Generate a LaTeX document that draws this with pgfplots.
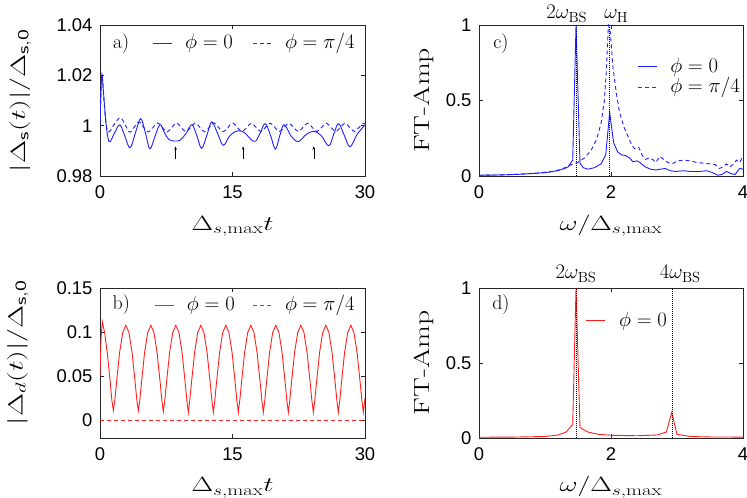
\documentclass[border=0pt]{standalone}
\usepackage{fontspec}
\usepackage{graphicx}
\usepackage{pgfplots}
\pgfplotsset{compat=1.18}
\usetikzlibrary{arrows.meta}
\newfontfamily\tickfont{Liberation Sans}
\definecolor{mblue}{rgb}{0.12,0.12,1}
\definecolor{mred}{rgb}{1,0.12,0.12}
\definecolor{kbA}{rgb}{0.13,0.13,1}
\definecolor{kbB}{rgb}{0.14,0.14,1}
\definecolor{kbC}{rgb}{0.11,0.11,1}
\definecolor{kbD}{rgb}{0.15,0.15,1}
\definecolor{krA}{rgb}{1,0.13,0.13}
\definecolor{krB}{rgb}{1,0.14,0.14}
\definecolor{krC}{rgb}{1,0.11,0.11}
\definecolor{axgray}{rgb}{0.15,0.15,0.15}

\newcommand{\keyrule}[1]{\rule[\dimexpr0.25em-0.45bp\relax]{#1}{0.9bp}}
\newcommand{\solkey}[1]{\textcolor{#1}{\keyrule{19bp}}}
\newcommand{\dshkey}[1]{\textcolor{#1}{\keyrule{4bp}\hspace{3bp}\keyrule{4bp}\hspace{3bp}\keyrule{4bp}}}

\tikzset{
  sol/.style={line width=0.9bp},
  dsh/.style={line width=0.9bp, dash pattern=on 4bp off 3bp},
  vline/.style={black, line width=0.7bp, dash pattern=on 1bp off 1bp},
  arr/.style={black, line width=0.5bp, -{Stealth[length=3.5bp,width=2.5bp]}},
  legtxt/.style={font=\fontsize{21}{24}\selectfont, anchor=west, inner sep=0pt},
}
\pgfplotsset{
  myax/.style={
    scale only axis, anchor=south west,
    axis line style={axgray, line width=0.8bp},
    tick style={axgray, line width=0.6bp},
    tick align=inside, major tick length=4bp,
    xtick pos=both, ytick pos=both,
    tick label style={font=\fontsize{18.5}{21}\selectfont\tickfont},
    /pgf/number format/assume math mode=true,
    scaled ticks=false,
    xticklabel style={yshift=-6bp},
    yticklabel style={xshift=-4bp},
    xlabel style={font=\fontsize{22}{26}\selectfont, anchor=base},
    ylabel style={font=\fontsize{22}{26}\selectfont, anchor=center},
    clip mode=individual,
  },
  topax/.style={myax, width=265bp, height=151bp},
  botax/.style={myax, width=265bp, height=150bp},
}

\begin{document}
\begin{tikzpicture}
\useasboundingbox (0,0) rectangle (747bp,498bp);

% ---------------- panel a ----------------
\begin{axis}[topax, at={(100bp,322bp)},
  xmin=0, xmax=30, ymin=0.98, ymax=1.04,
  xtick={0,15,30}, xticklabels={0,15,30},
  ytick={0.98,1,1.02,1.04}, yticklabels={0.98,1,1.02,1.04},
  xlabel={\scalebox{1.35}[1]{$\Delta_{s,\mathrm{max}}t$}},
  xlabel style={at={(axis description cs:0.5,-0.358)}},
  ylabel={\scalebox{1.45}[1]{$|\Delta_{\mathsf{s}}(t)|/\Delta_{\mathsf{s,0}}$}},
  ylabel style={at={(axis description cs:-0.30,0.5)}},
]
\addplot[color=mblue, sol, smooth, tension=0.6] coordinates {
(0,1.000) (0.1,1.013) (0.22,1.0205) (0.4,1.013) (0.65,1.002) (0.9,0.9952)
(1.15,0.9937) (1.7,0.9975) (2.25,1.0003) (2.8,0.996) (3.4,0.9912) (4.0,0.997)
(4.6,1.0028) (5.15,0.997) (5.65,0.9908) (6.25,0.996) (6.8,1.0004) (7.3,0.9972)
(7.8,0.9945) (8.45,0.9939) (9.1,0.9943) (9.75,0.997) (10.4,1.0004) (10.95,0.9962)
(11.5,0.991) (12.1,0.9962) (12.65,1.0015) (13.3,0.997) (13.95,0.9922) (14.65,0.9958)
(15.3,0.9976) (15.9,0.9979) (16.5,0.9968) (17.1,0.9945) (17.6,0.9938) (18.15,0.9972)
(18.7,1.0008) (19.3,0.9962) (19.85,0.9907) (20.35,0.996) (20.85,1.0004) (21.65,0.9958)
(22.45,0.9937) (23.35,0.9965) (24.2,0.9978) (25.05,0.996) (25.9,0.992) (26.45,0.9965)
(27.0,1.0008) (27.65,0.9962) (28.3,0.9916) (29.1,0.9965) (30,1.0003)
};
\addplot[color=mblue, dsh, smooth, tension=0.6] coordinates {
(0,1.000) (0.1,1.012) (0.24,1.0195) (0.45,1.010) (0.7,1.0005) (1.0,0.9975)
(1.6,1.0005) (2.3,1.0032) (2.85,1.0003) (3.36,0.9974) (3.9,0.9995) (4.42,1.0015)
(4.95,0.9993) (5.48,0.9975) (6.0,0.9993) (6.54,1.0011) (7.07,0.9993) (7.6,0.9975)
(8.13,0.9993) (8.66,1.0011) (9.19,0.9993) (9.72,0.9976) (10.25,0.9993) (10.78,1.0011)
(11.31,0.9993) (11.84,0.9976) (12.37,0.9993) (12.90,1.0011) (13.43,0.9993) (13.96,0.9976)
(14.49,0.9993) (15.02,1.0011) (15.55,0.9993) (16.08,0.9977) (16.61,0.9993) (17.14,1.0010)
(17.67,0.9993) (18.20,0.9977) (18.73,0.9993) (19.26,1.0010) (19.79,0.9993) (20.32,0.9977)
(20.85,0.9993) (21.38,1.0010) (21.91,0.9993) (22.44,0.9977) (22.97,0.9993) (23.50,1.0010)
(24.03,0.9993) (24.56,0.9977) (25.09,0.9993) (25.62,1.0010) (26.15,0.9993) (26.68,0.9977)
(27.21,0.9993) (27.74,1.0010) (28.27,0.9993) (28.80,0.9977) (29.33,0.9993) (29.86,1.0010)
(30,1.0009)
};
\addplot[arr] coordinates {(8.55,0.9866) (8.55,0.9918)};
\addplot[arr] coordinates {(16.2,0.9866) (16.2,0.9918)};
\addplot[arr] coordinates {(24.2,0.9866) (24.2,0.9918)};
\node[legtxt] at (axis cs:6.0,1.0328) {\solkey{kbA}\hspace{13bp}$\phi=0$};
\node[legtxt] at (axis cs:17.3,1.0328) {\dshkey{kbB}\hspace{14bp}$\phi=\pi/4$};
\node[font=\fontsize{20}{23}\selectfont] at (axis description cs:0.08,0.88) {a)};
\end{axis}

% ---------------- panel c ----------------
\begin{axis}[topax, at={(479bp,322bp)}, width=264bp,
  xmin=0, xmax=4, ymin=0, ymax=1,
  xtick={0,2,4}, xticklabels={0,2,4},
  ytick={0,0.5,1}, yticklabels={0,0.5,1},
  xlabel={\scalebox{1.35}[1]{$\omega/\Delta_{s,\mathrm{max}}$}},
  xlabel style={at={(axis description cs:0.5,-0.358)}},
  ylabel={\scalebox{1.35}[1]{FT-Amp}},
  ylabel style={at={(axis description cs:-0.21,0.5)}},
]
\addplot[color=mblue, sol] coordinates {
(0,0.005) (0.2,0.006) (0.4,0.008) (0.6,0.011) (0.8,0.016) (1.0,0.022) (1.1,0.028)
(1.2,0.036) (1.3,0.05) (1.35,0.06) (1.42,0.105) (1.47,1.0) (1.53,0.085) (1.58,0.055)
(1.65,0.045) (1.75,0.055) (1.85,0.08) (1.92,0.14) (1.98,0.42) (2.04,0.22) (2.1,0.16)
(2.16,0.14) (2.22,0.135) (2.28,0.12) (2.33,0.095) (2.4,0.1) (2.45,0.085) (2.52,0.06)
(2.6,0.045) (2.68,0.04) (2.75,0.045) (2.82,0.05) (2.9,0.035) (2.98,0.03) (3.1,0.035)
(3.2,0.03) (3.34,0.03) (3.45,0.035) (3.55,0.02) (3.62,0.005) (3.68,0.01) (3.75,0.03)
(3.82,0.015) (3.88,0.01) (3.95,0.05) (4.0,0.045)
};
\addplot[color=mblue, dsh] coordinates {
(0,0.005) (0.3,0.007) (0.6,0.012) (0.9,0.02) (1.1,0.03) (1.25,0.045) (1.4,0.075)
(1.5,0.09) (1.6,0.12) (1.7,0.17) (1.78,0.24) (1.85,0.35) (1.9,0.5) (1.93,0.7)
(1.96,1.0) (1.99,0.95) (2.03,0.72) (2.08,0.55) (2.13,0.42) (2.2,0.32) (2.26,0.26)
(2.32,0.2) (2.36,0.18) (2.42,0.19) (2.47,0.14) (2.52,0.11) (2.58,0.12) (2.63,0.11)
(2.68,0.09) (2.74,0.13) (2.8,0.11) (2.86,0.09) (2.93,0.08) (3.0,0.1) (3.1,0.105)
(3.2,0.1) (3.3,0.09) (3.4,0.085) (3.5,0.08) (3.58,0.075) (3.64,0.05) (3.7,0.06)
(3.75,0.08) (3.8,0.06) (3.86,0.08) (3.9,0.105) (3.95,0.09) (4.0,0.13)
};
\addplot[vline] coordinates {(1.47,0) (1.47,1)};
\addplot[vline] coordinates {(1.98,0) (1.98,1)};
\node[legtxt] at (axis cs:2.41,0.722) {\solkey{kbC}\hspace{13bp}$\phi=0$};
\node[legtxt] at (axis cs:2.41,0.589) {\dshkey{kbD}\hspace{14bp}$\phi=\pi/4$};
\node[font=\fontsize{21}{24}\selectfont, anchor=base] at (axis cs:1.33,1) [yshift=6bp] {$2\omega_{\mathrm{BS}}$};
\node[font=\fontsize{21}{24}\selectfont, anchor=base] at (axis cs:2.08,1) [yshift=6bp] {$\omega_{\mathrm{H}}$};
\node[font=\fontsize{20}{23}\selectfont] at (axis description cs:0.083,0.88) {c)};
\end{axis}

% ---------------- panel b ----------------
\begin{axis}[botax, at={(100bp,60bp)},
  xmin=0, xmax=30, ymin=-0.02, ymax=0.15,
  xtick={0,15,30}, xticklabels={0,15,30},
  ytick={0,0.05,0.1,0.15}, yticklabels={0,0.05,0.1,0.15},
  xlabel={\scalebox{1.35}[1]{$\Delta_{s,\mathrm{max}}t$}},
  xlabel style={at={(axis description cs:0.5,-0.36)}},
  ylabel={\scalebox{1.45}[1]{$|\Delta_{d}(t)|/\Delta_{\mathsf{s,0}}$}},
  ylabel style={at={(axis description cs:-0.31,0.57)}},
]
\addplot[color=mred, sol] coordinates {
(0,0.05) (0.1,0.09) (0.26,0.112) (0.55,0.098) (0.85,0.074) (1.15,0.044) (1.33,0.024) (1.51,0.011)
(1.69,0.024) (1.86,0.042) (2.22,0.077) (2.57,0.0995) (2.925,0.1077) (3.28,0.0995) (3.63,0.077) (3.99,0.042) (4.16,0.024) (4.34,0.011)
(4.52,0.024) (4.69,0.042) (5.05,0.077) (5.40,0.0995) (5.755,0.1077) (6.11,0.0995) (6.46,0.077) (6.82,0.042) (6.99,0.024) (7.17,0.010)
(7.35,0.024) (7.52,0.042) (7.88,0.077) (8.23,0.0995) (8.585,0.1077) (8.94,0.0995) (9.29,0.077) (9.65,0.042) (9.82,0.024) (10.00,0.009)
(10.18,0.024) (10.35,0.042) (10.71,0.077) (11.06,0.0995) (11.415,0.1077) (11.77,0.0995) (12.12,0.077) (12.48,0.042) (12.65,0.024) (12.83,0.009)
(13.01,0.024) (13.18,0.042) (13.54,0.077) (13.89,0.0995) (14.245,0.1077) (14.60,0.0995) (14.95,0.077) (15.31,0.042) (15.48,0.024) (15.66,0.009)
(15.84,0.024) (16.01,0.042) (16.37,0.077) (16.72,0.0995) (17.075,0.1077) (17.43,0.0995) (17.78,0.077) (18.14,0.042) (18.31,0.024) (18.49,0.009)
(18.67,0.024) (18.84,0.042) (19.20,0.077) (19.55,0.0995) (19.905,0.1077) (20.26,0.0995) (20.61,0.077) (20.97,0.042) (21.14,0.024) (21.32,0.009)
(21.50,0.024) (21.67,0.042) (22.03,0.077) (22.38,0.0995) (22.735,0.1077) (23.09,0.0995) (23.44,0.077) (23.80,0.042) (23.97,0.024) (24.15,0.009)
(24.33,0.024) (24.50,0.042) (24.86,0.077) (25.21,0.0995) (25.565,0.1077) (25.92,0.0995) (26.27,0.077) (26.63,0.042) (26.80,0.024) (26.98,0.009)
(27.16,0.024) (27.33,0.042) (27.69,0.077) (28.04,0.0995) (28.395,0.1077) (28.75,0.0995) (29.10,0.077) (29.46,0.042) (29.63,0.024) (29.81,0.009)
(30,0.025)
};
\addplot[color=mred, dsh] coordinates {(0,0) (30,0)};
\node[legtxt] at (axis cs:6.2,0.1304) {\solkey{krA}\hspace{13bp}$\phi=0$};
\node[legtxt] at (axis cs:17.3,0.1304) {\dshkey{krB}\hspace{14bp}$\phi=\pi/4$};
\node[font=\fontsize{20}{23}\selectfont] at (axis description cs:0.08,0.887) {b)};
\end{axis}

% ---------------- panel d ----------------
\begin{axis}[botax, at={(479bp,60bp)}, width=264bp,
  xmin=0, xmax=4, ymin=0, ymax=1,
  xtick={0,2,4}, xticklabels={0,2,4},
  ytick={0,0.5,1}, yticklabels={0,0.5,1},
  xlabel={\scalebox{1.35}[1]{$\omega/\Delta_{s,\mathrm{max}}$}},
  xlabel style={at={(axis description cs:0.5,-0.36)}},
  ylabel={\scalebox{1.35}[1]{FT-Amp}},
  ylabel style={at={(axis description cs:-0.21,0.5)}},
]
\addplot[color=mred, sol] coordinates {
(0,0.005) (0.5,0.006) (1.0,0.01) (1.2,0.02) (1.32,0.04) (1.42,0.09) (1.47,1.0)
(1.53,0.07) (1.65,0.04) (1.8,0.025) (2.0,0.018) (2.4,0.015) (2.7,0.02) (2.84,0.04)
(2.92,0.17) (3.0,0.025) (3.2,0.01) (3.5,0.007) (4.0,0.006)
};
\addplot[vline] coordinates {(1.47,0) (1.47,1)};
\addplot[vline] coordinates {(2.93,0) (2.93,1)};
\node[legtxt] at (axis cs:1.62,0.78) {\solkey{krC}\hspace{14bp}$\phi=0$};
\node[font=\fontsize{21}{24}\selectfont, anchor=base] at (axis cs:1.47,1) [yshift=9bp] {$2\omega_{\mathrm{BS}}$};
\node[font=\fontsize{21}{24}\selectfont, anchor=base] at (axis cs:3.05,1) [yshift=9bp] {$4\omega_{\mathrm{BS}}$};
\node[font=\fontsize{20}{23}\selectfont] at (axis description cs:0.083,0.887) {d)};
\end{axis}
\end{tikzpicture}
\end{document}
